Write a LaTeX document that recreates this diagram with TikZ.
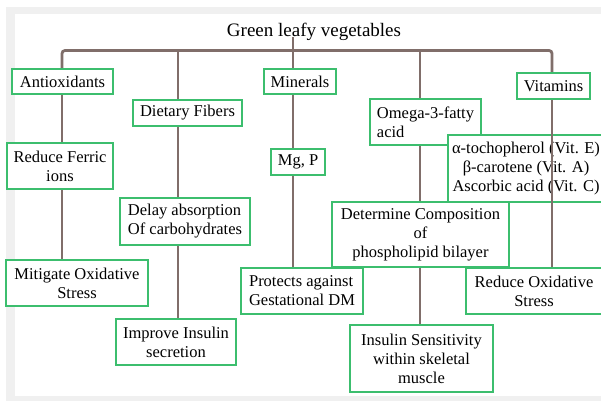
\documentclass[tikz,border=0pt]{standalone}
\usepackage{fontspec}
\setmainfont{Liberation Serif}
\definecolor{linkc}{RGB}{128,110,106}
\definecolor{boxc}{RGB}{60,190,110}
\definecolor{framec}{RGB}{240,240,240}

\begin{document}
\begin{tikzpicture}[x=1pt,y=-1pt,
  box/.style={draw=boxc,line width=2pt,fill=white,inner sep=0pt,align=center,
    font=\fontsize{16.5}{19}\selectfont},
  link/.style={draw=linkc,line width=2.8pt}]
  \useasboundingbox (0,0) rectangle (601,401);
  \clip (0,0) rectangle (601,401);
  % frame
  \fill[framec] (6,7) rectangle (601,401);
  \fill[white] (15,14) rectangle (601,396);

  \node[anchor=base,font=\fontsize{19}{22}\selectfont,inner sep=0pt] (veg) at (314,37) {Green leafy vegetables};
  \coordinate (top) at (293,37);
  \coordinate (b1) at (62,50.5);
  \coordinate (b2) at (178,50.5);
  \coordinate (b3) at (293,50.5);
  \coordinate (b4) at (420,50.5);
  \coordinate (b5) at (552,50.5);

  % first row
  \node[box,minimum width=101,minimum height=25] (ant) at (62.5,81.5) {Antioxidants};
  \node[box,minimum width=109,minimum height=26] (fib) at (187.5,113) {Dietary Fibers};
  \node[box,minimum width=72,minimum height=25] (min) at (300,81.5) {Minerals};
  \node[box,minimum width=111,minimum height=46,align=left] (omg) at (425.5,122) {Omega-3-fatty\\acid};
  \node[box,minimum width=73,minimum height=26] (vit) at (553.5,86) {Vitamins};
  % second row
  \node[box,minimum width=106,minimum height=46] (fer) at (60,166) {Reduce Ferric\\ions};
  \node[box,minimum width=54,minimum height=26] (mgp) at (298,162) {Mg, P};
  \node[box,minimum width=156,minimum height=67] (toc) at (526,168.5) {α-tochopherol (Vit. E)\\β-carotene (Vit. A)\\Ascorbic acid (Vit. C)};
  \node[box,minimum width=130,minimum height=47,align=left] (del) at (185,221.5) {Delay absorption\\Of carbohydrates};
  \node[box,minimum width=177,minimum height=65] (det) at (420.5,234.5) {Determine Composition\\of\\phospholipid bilayer};
  % third row
  \node[box,minimum width=142,minimum height=46] (mit) at (77,283) {Mitigate Oxidative\\Stress};
  \node[box,minimum width=122,minimum height=46,align=left] (pro) at (302,291) {Protects against\\Gestational DM};
  \node[box,minimum width=136,minimum height=46] (rox) at (534,291) {Reduce Oxidative\\Stress};
  \node[box,minimum width=120,minimum height=46] (imp) at (176,342) {Improve Insulin\\secretion};
  \node[box,minimum width=143,minimum height=67] (ins) at (421.5,358.5) {Insulin Sensitivity\\within skeletal\\muscle};

  % connectors
  \draw[link,rounded corners=3pt] (ant.north -| b1) -- (b1) -- (b5) -- (vit.north -| b5);
  \draw[link] (top) -- (min.north -| top);
  \draw[link] (b2) -- (fib.north -| b2);
  \draw[link] (b4) -- (omg.north -| b4);
  \draw[link] (ant.south -| b1) -- (fer.north -| b1);
  \draw[link] (fer.south -| b1) -- (mit.north -| b1);
  \draw[link] (fib.south -| b2) -- (del.north -| b2);
  \draw[link] (del.south -| b2) -- (imp.north -| b2);
  \draw[link] (min.south -| b3) -- (mgp.north -| b3);
  \draw[link] (mgp.south -| b3) -- (pro.north -| b3);
  \draw[link] (omg.south -| b4) -- (det.north -| b4);
  \draw[link] (det.south -| b4) -- (ins.north -| b4);
  \draw[link] (vit.south -| b5) -- (rox.north -| b5);
\end{tikzpicture}
\end{document}
